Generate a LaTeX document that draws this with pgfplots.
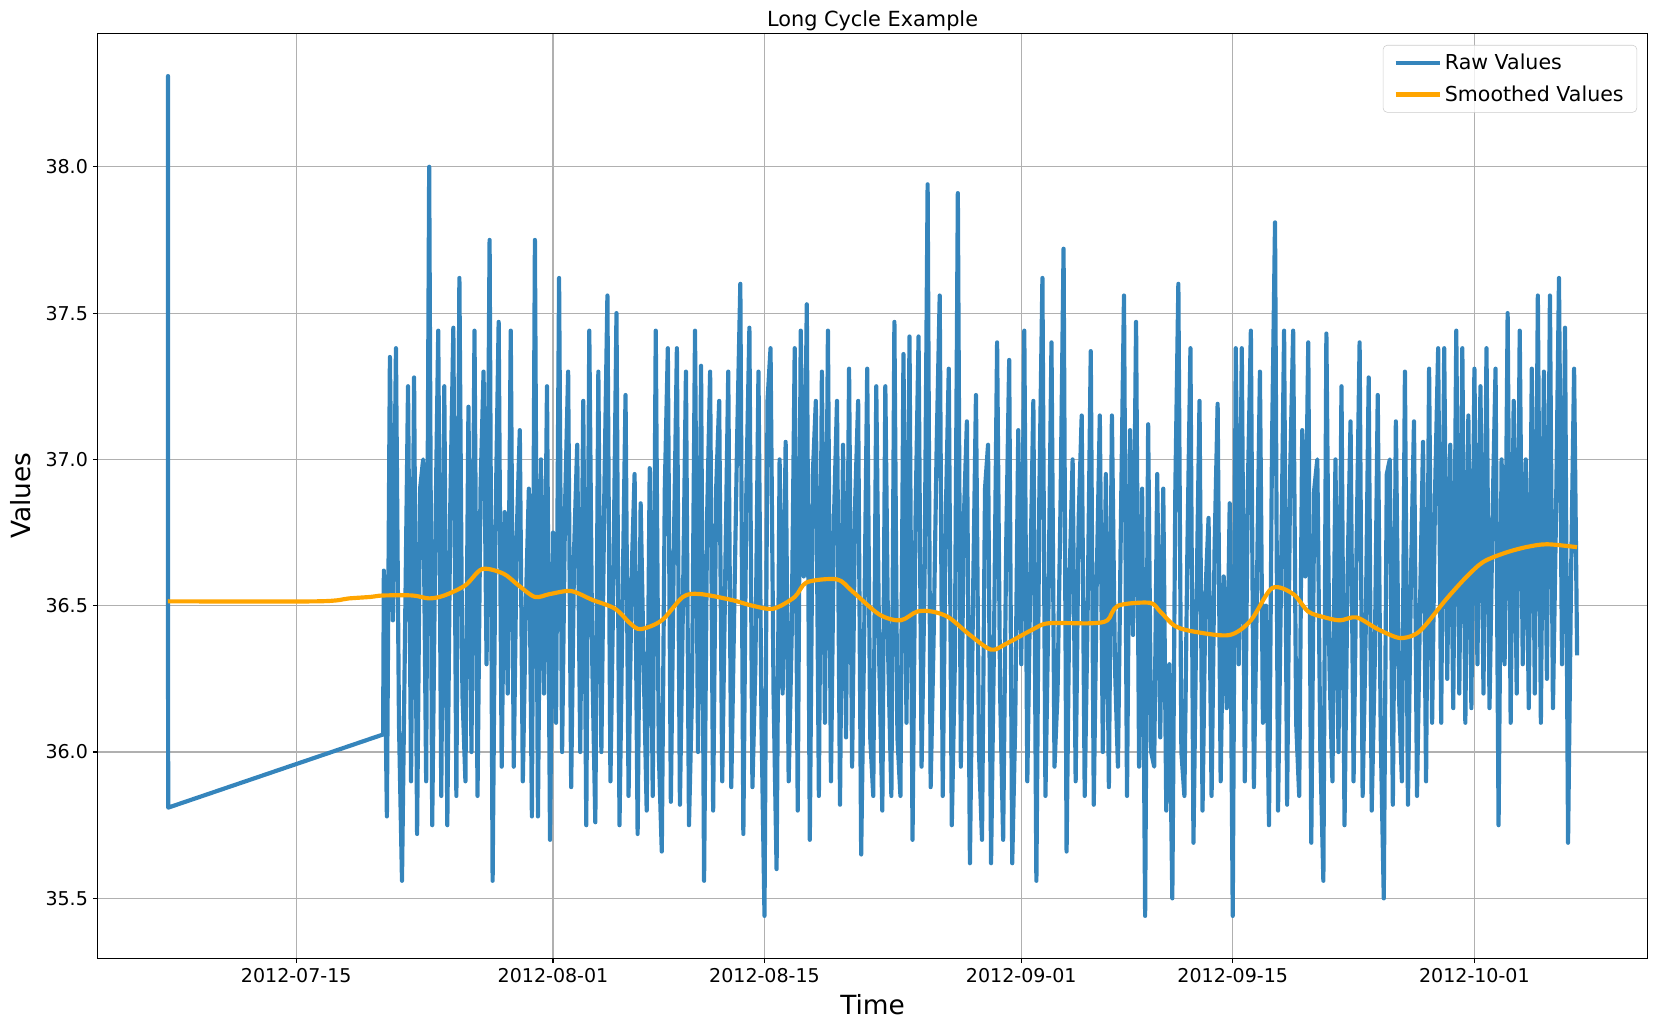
\documentclass[border=0pt]{standalone}
\usepackage{pgfplots}
\pgfplotsset{compat=1.18}
\usepackage{fontspec}
\setmainfont{DejaVu Sans}
\definecolor{rawblue}{RGB}{53,133,188}
\definecolor{smorange}{RGB}{255,165,0}
\definecolor{gridgray}{RGB}{176,176,176}
\begin{document}
\begin{tikzpicture}
\path[use as bounding box] (-70.3pt,-51.6pt) rectangle (1122pt,690pt);
\begin{axis}[
  at={(0,0)}, anchor=south west,
  scale only axis, width=1115.9pt, height=666pt,
  xmin=-13.15, xmax=89.46, ymin=35.295, ymax=38.456,
  axis line style={line width=0.8pt, black},
  xtick={0,17,31,48,62,78},
  xticklabels={2012-07-15,2012-08-01,2012-08-15,2012-09-01,2012-09-15,2012-10-01},
  ytick={35.5,36,36.5,37,37.5,38},
  yticklabel style={/pgf/number format/.cd, fixed, fixed zerofill, precision=1},
  /pgf/number format/assume math mode=true,
  tick align=outside, major tick length=3.5pt,
  every tick/.style={black, line width=0.8pt},
  xtick pos=bottom, ytick pos=left,
  tick label style={font=\fontsize{13.7}{16}\selectfont},
  grid=major,
  major grid style={gridgray, line width=0.8pt},
  title={Long Cycle Example},
  every axis title/.style={at={(axis description cs:0.5,1)}, anchor=base, yshift=4.8pt, font=\fontsize{15}{18}\selectfont},
  xlabel={Time},
  every axis x label/.style={at={(axis description cs:0.5,0)}, anchor=base, yshift=-40.5pt, font=\fontsize{19}{22}\selectfont},
  ylabel={Values},
  every axis y label/.style={at={(axis description cs:-0.0497,0.5)}, rotate=90, anchor=center, font=\fontsize{19}{22}\selectfont},
  legend style={at={(rel axis cs:1,1)}, anchor=north east, xshift=-7.5pt, yshift=-8.4pt,
    draw=black!20, rounded corners=3pt, fill=white, fill opacity=0.8, draw opacity=1, text opacity=1,
    font=\fontsize{14.8}{17}\selectfont, inner xsep=7.5pt, inner ysep=4.5pt, row sep=5.8pt,
    /tikz/every even column/.append style={column sep=4pt}},
  legend cell align=left,
  legend image code/.code={\draw[#1] (0pt,0pt) -- (32pt,0pt) \pgfextra{\hspace{4pt}};},
]
\addplot[rawblue, line width=3pt, line join=round] coordinates {
(-8.50,36.18)(-8.49,38.31)(-8.48,35.81)(5.75,36.06)(5.80,36.62)
(6.0,35.78)(6.2,37.35)(6.4,36.45)(6.6,37.38)(6.8,36.10)
(7.0,35.56)(7.2,36.40)(7.4,37.25)(7.6,35.90)(7.8,37.28)
(8.0,35.72)(8.2,36.90)(8.4,37.00)(8.6,35.90)(8.8,38.00)
(9.0,35.75)(9.2,36.70)(9.4,37.44)(9.6,35.85)(9.8,37.25)
(10.0,35.75)(10.2,36.85)(10.4,37.45)(10.6,35.85)(10.8,37.62)
(11.0,36.20)(11.2,35.90)(11.4,37.18)(11.6,36.00)(11.8,37.44)
(12.0,35.85)(12.2,36.90)(12.4,37.30)(12.6,36.30)(12.8,37.75)
(13.0,35.56)(13.2,36.80)(13.4,37.47)(13.6,35.95)(13.8,36.82)
(14.0,36.20)(14.2,37.44)(14.4,35.95)(14.6,36.75)(14.8,37.10)
(15.0,35.90)(15.2,36.50)(15.4,36.90)(15.6,35.78)(15.8,37.75)
(16.0,35.78)(16.2,37.00)(16.4,36.20)(16.6,37.25)(16.8,35.70)
(17.0,36.75)(17.2,36.10)(17.4,37.62)(17.6,36.00)(17.8,36.85)
(18.0,37.30)(18.2,35.88)(18.4,36.70)(18.6,37.05)(18.8,36.00)
(19.0,37.20)(19.2,35.75)(19.4,37.44)(19.6,36.30)(19.8,35.76)
(20.0,37.30)(20.2,36.00)(20.4,36.90)(20.6,37.56)(20.8,35.90)
(21.0,36.60)(21.2,37.50)(21.4,35.75)(21.6,36.50)(21.8,37.22)
(22.0,35.85)(22.2,36.60)(22.4,36.95)(22.6,35.72)(22.8,36.85)
(23.0,36.30)(23.2,35.80)(23.4,36.97)(23.6,35.85)(23.8,37.44)
(24.0,36.00)(24.2,35.66)(24.4,36.90)(24.6,37.38)(24.8,35.83)
(25.0,36.70)(25.2,37.38)(25.4,35.82)(25.6,36.50)(25.8,37.30)
(26.0,35.75)(26.2,36.20)(26.4,37.44)(26.6,36.00)(26.8,37.32)
(27.0,35.56)(27.2,36.80)(27.4,37.30)(27.6,35.80)(27.8,36.90)
(28.0,37.20)(28.2,35.90)(28.4,36.60)(28.6,37.30)(28.8,35.88)
(29.0,36.50)(29.2,37.10)(29.4,37.60)(29.6,35.72)(29.8,36.90)
(30.0,37.45)(30.2,35.88)(30.4,36.30)(30.6,37.30)(30.8,36.10)
(31.0,35.44)(31.2,37.20)(31.4,37.38)(31.6,36.20)(31.8,35.60)
(32.0,37.00)(32.2,36.20)(32.4,37.06)(32.6,35.90)(32.8,36.40)
(33.0,37.38)(33.2,35.80)(33.4,37.44)(33.6,36.60)(33.8,37.53)
(34.0,35.70)(34.2,36.95)(34.4,37.20)(34.6,35.85)(34.8,37.30)
(35.0,36.10)(35.2,37.44)(35.4,35.90)(35.6,36.80)(35.8,37.20)
(36.0,35.82)(36.2,37.05)(36.4,36.05)(36.6,37.31)(36.8,35.95)
(37.0,36.85)(37.2,37.20)(37.4,35.65)(37.6,36.40)(37.8,37.31)
(38.0,36.05)(38.2,35.85)(38.4,37.25)(38.6,36.30)(38.8,35.80)
(39.0,37.25)(39.2,36.30)(39.4,35.85)(39.6,37.47)(39.8,36.05)
(40.0,35.85)(40.2,37.36)(40.4,36.10)(40.6,37.42)(40.8,35.70)
(41.0,36.80)(41.2,37.42)(41.4,35.95)(41.6,36.60)(41.8,37.94)
(42.0,35.88)(42.2,36.40)(42.4,37.05)(42.6,37.56)(42.8,35.85)
(43.0,36.80)(43.2,37.31)(43.4,35.75)(43.6,36.30)(43.8,37.91)
(44.0,35.95)(44.2,36.80)(44.4,37.13)(44.6,35.62)(44.8,36.50)
(45.0,37.22)(45.2,36.00)(45.4,35.70)(45.6,36.90)(45.8,37.05)
(46.0,35.62)(46.2,36.40)(46.4,37.40)(46.6,36.20)(46.8,35.70)
(47.0,36.70)(47.2,37.34)(47.4,35.62)(47.6,36.10)(47.8,37.10)
(48.0,36.30)(48.2,37.44)(48.4,35.90)(48.6,36.60)(48.8,37.20)
(49.0,35.56)(49.2,36.90)(49.4,37.62)(49.6,35.85)(49.8,36.50)
(50.0,37.40)(50.2,35.95)(50.4,36.20)(50.6,36.85)(50.8,37.72)
(51.0,35.66)(51.2,36.60)(51.4,37.00)(51.6,35.90)(51.8,36.80)
(52.0,37.15)(52.2,35.85)(52.4,36.50)(52.6,37.37)(52.8,35.82)
(53.0,36.60)(53.2,37.15)(53.4,36.00)(53.6,36.95)(53.8,35.88)
(54.0,37.15)(54.2,36.30)(54.4,35.95)(54.6,36.80)(54.8,37.56)
(55.0,35.85)(55.2,37.10)(55.4,36.40)(55.6,37.47)(55.8,35.95)
(56.0,36.90)(56.2,35.44)(56.4,37.12)(56.6,36.00)(56.8,35.95)
(57.0,36.95)(57.2,36.05)(57.4,36.90)(57.6,35.80)(57.8,36.30)
(58.0,35.50)(58.2,36.90)(58.4,37.60)(58.6,36.00)(58.8,35.85)
(59.0,36.70)(59.2,37.38)(59.4,35.69)(59.6,36.50)(59.8,37.20)
(60.0,35.80)(60.2,36.55)(60.4,36.80)(60.6,35.85)(60.8,36.70)
(61.0,37.19)(61.2,35.90)(61.4,36.60)(61.6,36.15)(61.8,36.85)
(62.0,35.44)(62.2,37.38)(62.4,36.30)(62.6,37.38)(62.8,35.90)
(63.0,36.90)(63.2,37.44)(63.4,35.88)(63.6,36.55)(63.8,37.30)
(64.0,36.10)(64.2,36.50)(64.4,35.75)(64.6,37.05)(64.8,37.81)
(65.0,35.80)(65.2,36.60)(65.4,37.44)(65.6,35.82)(65.8,36.95)
(66.0,37.44)(66.2,36.10)(66.4,35.85)(66.6,37.10)(66.8,36.60)
(67.0,37.40)(67.2,35.69)(67.4,36.90)(67.6,37.00)(67.8,36.00)
(68.0,35.56)(68.2,37.43)(68.4,36.30)(68.6,35.90)(68.8,37.00)
(69.0,36.00)(69.2,37.25)(69.4,35.75)(69.6,36.60)(69.8,37.13)
(70.0,35.90)(70.2,36.70)(70.4,37.40)(70.6,35.85)(70.8,36.40)
(71.0,37.28)(71.2,35.80)(71.4,36.30)(71.6,37.22)(71.8,36.05)
(72.0,35.50)(72.2,36.95)(72.4,37.00)(72.6,35.82)(72.8,37.13)
(73.0,36.20)(73.2,35.90)(73.4,37.30)(73.6,35.82)(73.8,36.60)
(74.0,37.13)(74.2,35.85)(74.4,36.50)(74.6,37.06)(74.8,35.90)
(75.0,37.31)(75.2,36.10)(75.4,36.90)(75.6,37.38)(75.8,36.10)
(76.0,37.38)(76.2,36.25)(76.4,37.05)(76.6,36.15)(76.8,37.44)
(77.0,36.20)(77.2,37.38)(77.4,36.10)(77.6,37.15)(77.8,36.15)
(78.0,37.31)(78.2,36.30)(78.4,37.25)(78.6,36.20)(78.8,37.38)
(79.0,36.15)(79.2,36.80)(79.4,37.31)(79.6,35.75)(79.8,37.00)
(80.0,36.30)(80.2,37.50)(80.4,36.10)(80.6,37.20)(80.8,36.20)
(81.0,37.44)(81.2,36.30)(81.4,37.00)(81.6,36.15)(81.8,37.31)
(82.0,36.20)(82.2,37.56)(82.4,36.10)(82.6,37.30)(82.8,36.25)
(83.0,37.56)(83.2,36.15)(83.4,36.80)(83.6,37.62)(83.8,36.30)
(84.0,37.45)(84.2,35.69)(84.4,36.60)(84.6,37.31)(84.8,36.33)
};
\addlegendentry{Raw Values}
\addplot[smorange, line width=3pt, line join=round, smooth, tension=0.5] coordinates {
(-8.5,36.515)(1.4,36.515)(3.5,36.525)(4.9,36.53)(5.75,36.535)(7.7,36.535)
(8.8,36.525)(9.8,36.535)(11.2,36.57)(12.3,36.625)(13.7,36.61)(14.7,36.57)
(15.8,36.53)(16.8,36.54)(18.2,36.55)(19.6,36.52)(21.1,36.49)(22.1,36.44)
(22.8,36.42)(24.2,36.45)(25.6,36.53)(26.7,36.54)(28.8,36.52)(30.2,36.50)
(31.6,36.49)(33.0,36.53)(33.8,36.58)(35.8,36.59)(36.8,36.55)(38.6,36.47)
(40.0,36.45)(41.1,36.48)(42.1,36.48)(43.2,36.46)(44.6,36.40)(46.0,36.35)
(47.0,36.37)(48.8,36.42)(49.8,36.44)(52.6,36.44)(53.7,36.45)(54.4,36.50)
(56.5,36.51)(57.2,36.48)(58.2,36.43)(59.6,36.41)(61.8,36.40)(63.2,36.45)
(64.6,36.56)(66.0,36.54)(67.0,36.48)(68.1,36.46)(69.1,36.45)(70.2,36.46)
(71.6,36.42)(73.0,36.39)(74.0,36.40)(74.7,36.43)(76.1,36.52)(77.5,36.60)
(78.6,36.65)(80.0,36.68)(81.4,36.70)(82.8,36.71)(84.8,36.70)
};
\addlegendentry{Smoothed Values}
\end{axis}
\end{tikzpicture}
\end{document}
